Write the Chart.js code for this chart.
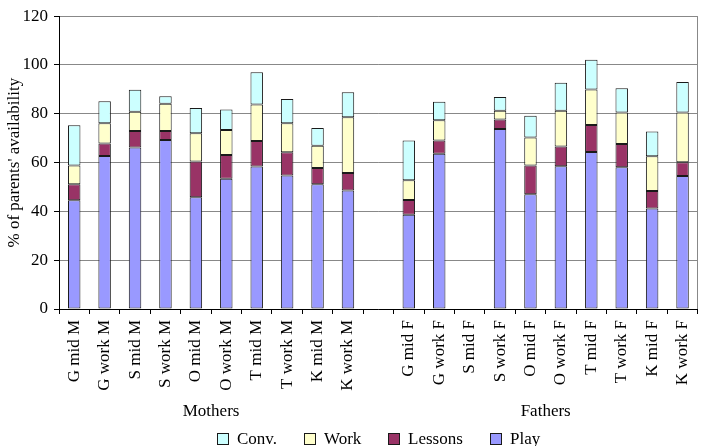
<!DOCTYPE html>
<html>
<head>
<meta charset="utf-8">
<script src="https://cdn.jsdelivr.net/npm/chart.js@4.4.1/dist/chart.umd.min.js"></script>
<style>
html,body{margin:0;padding:0;background:#fff;}
#wrap{width:709px;height:446px;position:relative;}
</style>
</head>
<body>
<div id="wrap"><canvas id="c" width="709" height="446"></canvas></div>
<script>
// ---- data ----
const categories = ["G mid M","G work M","S mid M","S work M","O mid M","O work M","T mid M","T work M","K mid M","K work M","",
                    "G mid F","G work F","S mid F","S work F","O mid F","O work F","T mid F","T work F","K mid F","K work F"];
const play    = [44.6, 62.7, 66.2, 69.3, 45.8, 53.4, 58.4, 54.7, 51.1, 48.6, null, 38.6, 63.6, null, 73.8, 47.0, 58.5, 64.3, 58.1, 41.2, 54.5];
const lessons = [ 6.5,  5.1,  6.8,  3.7, 14.6,  9.7, 10.5,  9.5,  6.7,  7.1, null,  6.1,  5.5, null,  3.9, 11.8,  8.1, 11.1,  9.5,  7.2,  5.6];
const work    = [ 7.7,  8.3,  7.8, 11.1, 11.6, 10.3, 14.9, 11.9,  9.1, 22.9, null,  8.1,  8.3, null,  3.5, 11.5, 14.6, 14.6, 12.9, 14.2, 20.4];
const conv    = [16.5,  9.0,  9.1,  3.1, 10.4,  8.4, 13.2, 10.0,  7.3, 10.2, null, 16.3,  7.5, null,  5.7,  8.9, 11.5, 12.2, 10.0, 10.1, 12.5];
const seriesNames = ["Play", "Lessons", "Work", "Conv."];
const groupNames = ["Mothers", "Fathers"];
const groupFirst = [0, 11];
const groupLast  = [9, 20];
const yTitle = "% of parents' availability";
const yMin = 0, yMax = 120, yStep = 20;

// ---- styles ----
const FONT = "'Liberation Serif', 'Times New Roman', serif";
const colors = ["#9999FF", "#993366", "#FFFFCC", "#CCFFFF"];
Chart.defaults.font.family = FONT;
Chart.defaults.font.size = 17;
Chart.defaults.color = "#000";

const seriesValues = [play, lessons, work, conv];
const datasets = seriesValues.map((vals, i) => ({
  label: seriesNames[i],
  data: vals,
  backgroundColor: colors[i],
  borderColor: "#1a1a1a",
  borderWidth: 1,
  borderSkipped: false,
  barPercentage: 0.41,
  categoryPercentage: 1.0
}));

const extras = {
  id: "extras",
  afterDraw(chart) {
    const ctx = chart.ctx;
    const area = chart.chartArea;
    const x = chart.scales.x;
    ctx.save();
    // right frame line
    ctx.strokeStyle = "#888";
    ctx.lineWidth = 1;
    ctx.beginPath();
    ctx.moveTo(Math.round(area.right) - 0.5, area.top);
    ctx.lineTo(Math.round(area.right) - 0.5, area.bottom);
    ctx.stroke();
    // group labels
    ctx.fillStyle = "#000";
    ctx.font = "17px " + FONT;
    ctx.textAlign = "center";
    ctx.textBaseline = "middle";
    groupNames.forEach((g, i) => {
      const cx = (x.getPixelForValue(groupFirst[i]) + x.getPixelForValue(groupLast[i])) / 2;
      ctx.fillText(g, cx, 412);
    });
    // legend (reverse order of stacking)
    const items = chart.data.datasets.map((d, i) => ({label: d.label, color: d.backgroundColor})).reverse();
    const box = 12, gap = 8, spacing = 27;
    ctx.textAlign = "left";
    const widths = items.map(it => ctx.measureText(it.label).width);
    const total = widths.reduce((a, w) => a + box + gap + w, 0) + spacing * (items.length - 1);
    let cx = (area.left + area.right) / 2 - total / 2;
    const by = 433;
    items.forEach((it, i) => {
      const bx = Math.round(cx);
      ctx.fillStyle = it.color;
      ctx.fillRect(bx, by, box, box);
      ctx.strokeStyle = "#1a1a1a";
      ctx.strokeRect(bx + 0.5, by + 0.5, box - 1, box - 1);
      ctx.fillStyle = "#000";
      ctx.fillText(it.label, bx + box + gap, by + box / 2 + 1);
      cx += box + gap + widths[i] + spacing;
    });
    ctx.restore();
  }
};

new Chart(document.getElementById("c"), {
  type: "bar",
  data: { labels: categories, datasets: datasets },
  options: {
    responsive: false,
    animation: false,
    layout: { padding: { top: 13, right: 2, left: 0, bottom: 0 } },
    plugins: { legend: { display: false }, tooltip: { enabled: false } },
    scales: {
      x: {
        stacked: true,
        grid: { drawOnChartArea: false, drawTicks: true, tickLength: 5, tickColor: "#000", offset: true },
        border: { color: "#000" },
        ticks: { autoSkip: false, minRotation: 90, maxRotation: 90, padding: 6, font: { size: 17 } },
        afterFit(s) { s.height = 137; }
      },
      y: {
        stacked: true,
        min: yMin, max: yMax,
        ticks: { stepSize: yStep, padding: 6, font: { size: 17 } },
        grid: { color: "#888", tickColor: "#000", tickLength: 5 },
        border: { color: "#000" },
        title: { display: true, text: yTitle, font: { size: 17 }, padding: { top: 4, bottom: 0 } },
        afterFit(s) { s.width = 59; }
      }
    }
  },
  plugins: [extras]
});
</script>
</body>
</html>
